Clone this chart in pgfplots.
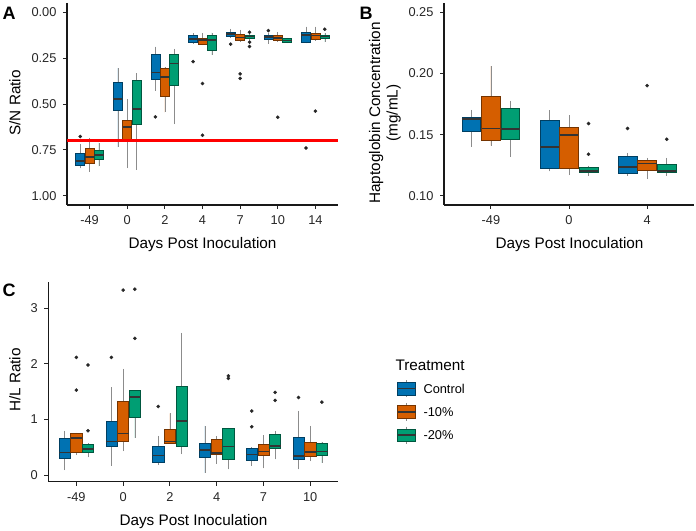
\documentclass[border=0pt]{standalone}
\usepackage{pgfplots}
\pgfplotsset{compat=1.18}
\usepgfplotslibrary{statistics}
\usepackage{fontspec}
\setmainfont{Liberation Sans}

\definecolor{cblue}{HTML}{0072B2}
\definecolor{corange}{HTML}{D55E00}
\definecolor{cgreen}{HTML}{009E73}

\pgfplotsset{
  ggbox/.style={
    scale only axis,
    anchor=south west,
    axis x line*=bottom, axis y line*=left,
    axis line style={line width=1.2bp, black!90, -},
    tick align=outside, major tick length=4bp,
    tick style={line width=0.9bp, black!85},
    ticklabel style={font=\fontsize{12.8bp}{14bp}\selectfont, text=black!85},
    xticklabel style={yshift=-3bp},
    yticklabel style={xshift=-3bp},
    /pgf/number format/assume math mode=true,
    boxplot/draw direction=y,
    boxplot/box extend=0.24,
    boxplot/whisker extend=0,
    boxplot/every median/.style={line width=1.6bp, draw=black!80},
    boxplot/every whisker/.style={draw=black!45, line width=0.6bp},
    clip=false,
  },
  outl/.style={only marks, mark=*, mark size=1.6bp, draw=black!85, fill=black!85},
}
% position, lw, lq, med, uq, uw, colour
\newcommand{\bx}[7]{\addplot[mark=none,
  fill=#7, draw=#7!55!black, line width=0.6bp,
  boxplot prepared={draw direction=y, draw position=#1, lower whisker=#2, lower quartile=#3,
    median=#4, upper quartile=#5, upper whisker=#6}] coordinates {};}

\begin{document}
\begin{tikzpicture}
\path[use as bounding box] (0,0) rectangle (696bp,531bp);

% ---------------- Panel A ----------------
\begin{axis}[ggbox, at={(67bp,326bp)}, width=271bp, height=202bp,
  xmin=-0.6, xmax=6.6, ymin=-0.05, ymax=1.05, y dir=reverse,
  xtick={0,1,2,3,4,5,6}, xticklabels={-49,0,2,4,7,10,14},
  ytick={0,0.25,0.5,0.75,1}, yticklabels={0.00,0.25,0.50,0.75,1.00}]
\bx{-0.25}{0.717}{0.771}{0.81}{0.835}{0.85}{cblue}
\bx{0}{0.684}{0.741}{0.79}{0.822}{0.868}{corange}
\bx{0.25}{0.71}{0.75}{0.779}{0.80}{0.84}{cgreen}
\bx{0.75}{0.305}{0.383}{0.474}{0.537}{0.735}{cblue}
\bx{1}{0.474}{0.59}{0.626}{0.695}{0.849}{corange}
\bx{1.25}{0.332}{0.372}{0.528}{0.608}{0.858}{cgreen}
\bx{1.75}{0.187}{0.229}{0.329}{0.365}{0.428}{cblue}
\bx{2}{0.30}{0.305}{0.354}{0.456}{0.546}{corange}
\bx{2.25}{0.20}{0.229}{0.28}{0.40}{0.61}{cgreen}
\bx{2.75}{0.114}{0.127}{0.145}{0.165}{0.172}{cblue}
\bx{3}{0.114}{0.142}{0.151}{0.173}{0.18}{corange}
\bx{3.25}{0.111}{0.127}{0.151}{0.205}{0.232}{cgreen}
\bx{3.75}{0.091}{0.109}{0.118}{0.133}{0.14}{cblue}
\bx{4}{0.096}{0.118}{0.138}{0.155}{0.16}{corange}
\bx{4.25}{0.12}{0.124}{0.133}{0.142}{0.15}{cgreen}
\bx{4.75}{0.115}{0.127}{0.136}{0.147}{0.172}{cblue}
\bx{5}{0.11}{0.127}{0.142}{0.155}{0.16}{corange}
\bx{5.25}{0.14}{0.142}{0.155}{0.165}{0.168}{cgreen}
\bx{5.75}{0.078}{0.111}{0.124}{0.165}{0.17}{cblue}
\bx{6}{0.078}{0.114}{0.127}{0.147}{0.155}{corange}
\bx{6.25}{0.115}{0.124}{0.133}{0.142}{0.163}{cgreen}
\addplot[outl] coordinates {(-0.25,0.677) (1.75,0.57) (2.75,0.269) (3,0.389) (3,0.67)
  (3.75,0.174) (4,0.336) (4,0.361) (4.25,0.109) (4.25,0.163) (4.25,0.187)
  (4.75,0.10) (5,0.572) (5.75,0.74) (6,0.539) (6.25,0.093)};
\addplot[red, line width=2.6bp] coordinates {(-0.6,0.70) (6.6,0.70)};
\end{axis}

% ---------------- Panel B ----------------
\begin{axis}[ggbox, at={(444bp,326bp)}, width=250bp, height=202bp,
  xmin=-0.6, xmax=2.6, ymin=0.0925, ymax=0.2575,
  xtick={0,1,2}, xticklabels={-49,0,4},
  ytick={0.10,0.15,0.20,0.25}, yticklabels={0.10,0.15,0.20,0.25}]
\bx{-0.25}{0.140}{0.1524}{0.1628}{0.1639}{0.1702}{cblue}
\bx{0}{0.141}{0.145}{0.155}{0.181}{0.206}{corange}
\bx{0.25}{0.132}{0.1465}{0.1544}{0.1716}{0.1775}{cgreen}
\bx{0.75}{0.120}{0.1228}{0.140}{0.1618}{0.170}{cblue}
\bx{1}{0.117}{0.1228}{0.1495}{0.156}{0.166}{corange}
\bx{1.25}{0.1163}{0.119}{0.1203}{0.1234}{0.1245}{cgreen}
\bx{1.75}{0.1163}{0.1187}{0.1234}{0.1326}{0.135}{cblue}
\bx{2}{0.1136}{0.1212}{0.1263}{0.129}{0.131}{corange}
\bx{2.25}{0.1163}{0.119}{0.1203}{0.1255}{0.131}{cgreen}
\addplot[outl] coordinates {(1.25,0.159) (1.25,0.134) (1.75,0.155) (2,0.19) (2.25,0.1462)};
\end{axis}

% ---------------- Panel C ----------------
\begin{axis}[ggbox, at={(48.3bp,49.3bp)}, width=290bp, height=200bp,
  xmin=-0.6, xmax=5.6, ymin=-0.12, ymax=3.48,
  xtick={0,1,2,3,4,5}, xticklabels={-49,0,2,4,7,10},
  ytick={0,1,2,3}, yticklabels={0,1,2,3}]
\bx{-0.25}{0.09}{0.306}{0.408}{0.66}{0.797}{cblue}
\bx{0}{0.36}{0.408}{0.67}{0.75}{0.76}{corange}
\bx{0.25}{0.318}{0.408}{0.473}{0.558}{0.57}{cgreen}
\bx{0.75}{0.168}{0.51}{0.6}{0.971}{1.577}{cblue}
\bx{1}{0.43}{0.6}{0.75}{1.326}{1.91}{corange}
\bx{1.25}{0.67}{1.04}{1.40}{1.52}{1.53}{cgreen}
\bx{1.75}{0.18}{0.228}{0.348}{0.52}{0.707}{cblue}
\bx{2}{0.56}{0.57}{0.6}{0.82}{1.11}{corange}
\bx{2.25}{0.378}{0.52}{0.97}{1.6}{2.56}{cgreen}
\bx{2.75}{0.04}{0.324}{0.45}{0.58}{0.887}{cblue}
\bx{3}{0.2}{0.372}{0.40}{0.64}{0.70}{corange}
\bx{3.25}{0.10}{0.288}{0.51}{0.845}{0.85}{cgreen}
\bx{3.75}{0.168}{0.264}{0.372}{0.473}{0.5}{cblue}
\bx{4}{0.12}{0.36}{0.426}{0.552}{0.72}{corange}
\bx{4.25}{0.282}{0.48}{0.52}{0.732}{0.797}{cgreen}
\bx{4.75}{0.10}{0.282}{0.342}{0.683}{1.157}{cblue}
\bx{5}{0.25}{0.33}{0.414}{0.588}{0.887}{corange}
\bx{5.25}{0.22}{0.348}{0.426}{0.576}{0.6}{cgreen}
\addplot[outl] coordinates {(0,2.117) (0,1.53) (0.25,0.797) (0.25,1.98) (0.75,2.117)
  (1,3.33) (1.25,3.345) (1.25,2.46) (1.75,1.235) (3.25,1.786) (3.25,1.739)
  (3.75,1.151) (3.75,0.869) (4.25,1.487) (4.25,1.343) (4.75,1.397) (5.25,1.313)};
\end{axis}

% ---------------- Labels and legend (pixel coordinates) ----------------
\begin{scope}[shift={(0,531bp)}, x=1bp, y=-1bp]
\node[font=\fontsize{18bp}{20bp}\selectfont\bfseries] at (9,13) {A};
\node[font=\fontsize{18bp}{20bp}\selectfont\bfseries] at (366,13) {B};
\node[font=\fontsize{18bp}{20bp}\selectfont\bfseries] at (9,290) {C};
\node[font=\fontsize{15.3bp}{17bp}\selectfont] at (202.5,245) {Days Post Inoculation};
\node[font=\fontsize{15.3bp}{17bp}\selectfont] at (569.5,245) {Days Post Inoculation};
\node[font=\fontsize{15.3bp}{17bp}\selectfont] at (193.5,521.7) {Days Post Inoculation};
\node[font=\fontsize{15.3bp}{17bp}\selectfont, rotate=90] at (15,103) {S/N Ratio};
\node[font=\fontsize{15.3bp}{17bp}\selectfont, rotate=90] at (15,380) {H/L Ratio};
\node[font=\fontsize{15.3bp}{17.5bp}\selectfont, rotate=90, align=center] at (385,113) {Haptoglobin Concentration\\(mg/mL)};
\node[font=\fontsize{15.3bp}{17bp}\selectfont, anchor=west] at (392,365) {Treatment};
\foreach \c/\yc/\t in {cblue/388.7/Control, corange/412/-10\%, cgreen/435.3/-20\%}{
  \draw[black!45, line width=0.6bp] (406.6,\yc-8.6) -- (406.6,\yc+8.6);
  \draw[fill=\c, draw=\c!55!black, line width=0.6bp] (397.7,\yc-6.2) rectangle (415.5,\yc+6.2);
  \draw[black!80, line width=1.6bp] (397.7,\yc) -- (415.5,\yc);
  \node[font=\fontsize{12.8bp}{14bp}\selectfont, anchor=west] at (420,\yc) {\t};
}
\end{scope}
\end{tikzpicture}
\end{document}
